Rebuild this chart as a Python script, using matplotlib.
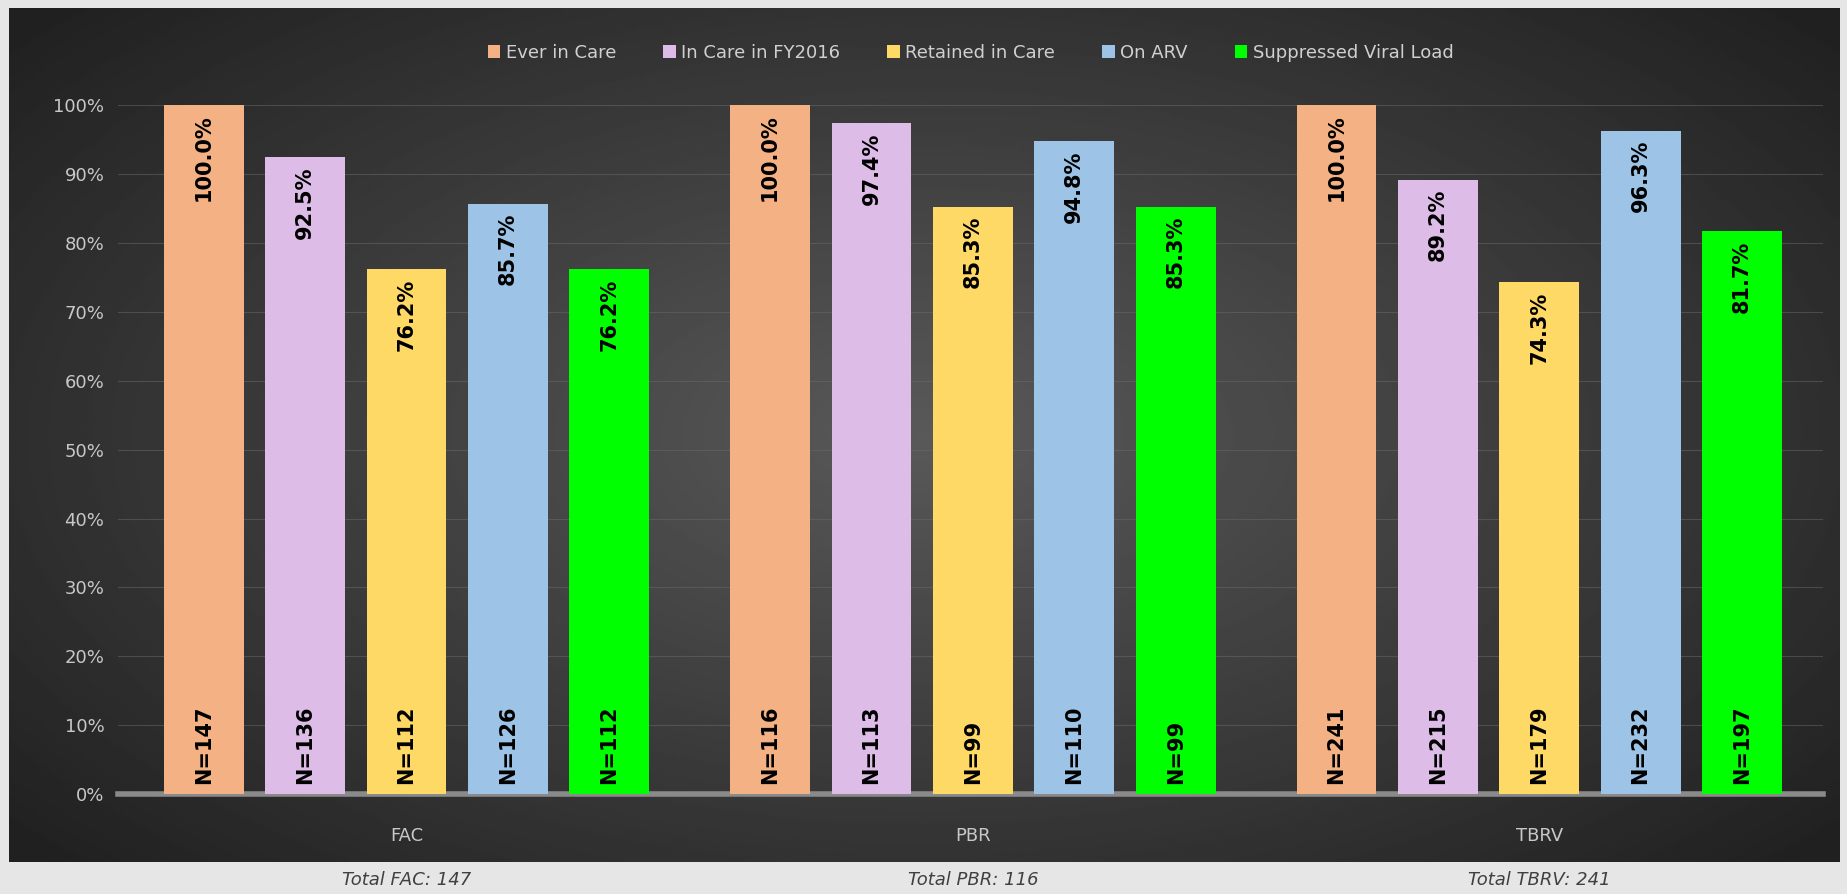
import numpy as np
import matplotlib
matplotlib.use('Agg')
import matplotlib.pyplot as plt
from matplotlib import font_manager

# data
groups = ['FAC', 'PBR', 'TBRV']
series = ['Ever in Care', 'In Care in FY2016', 'Retained in Care', 'On ARV', 'Suppressed Viral Load']
colors = ['#F4B183', '#DDBDE8', '#FFD966', '#9DC3E6', '#00FF00']
pct_fac = [100.0, 92.5, 76.2, 85.7, 76.2]
pct_pbr = [100.0, 97.4, 85.3, 94.8, 85.3]
pct_tbrv = [100.0, 89.2, 74.3, 96.3, 81.7]
n_fac = [147, 136, 112, 126, 112]
n_pbr = [116, 113, 99, 110, 99]
n_tbrv = [241, 215, 179, 232, 197]
totals = [147, 116, 241]

pcts = np.array([pct_fac, pct_pbr, pct_tbrv]) / 100
counts = np.array([n_fac, n_pbr, n_tbrv])

names = {f.name for f in font_manager.fontManager.ttflist}
narrow = 'Liberation Sans Narrow' if 'Liberation Sans Narrow' in names else 'DejaVu Sans'

fig = plt.figure(figsize=(18.47, 8.94), dpi=100)
fig.patch.set_facecolor('#e6e6e6')

# dark panel with radial gradient
bg = fig.add_axes([0.005, 0.036, 0.991, 0.955], zorder=0)
yy, xx = np.mgrid[-1:1:300j, -1:1:600j]
r = np.sqrt(xx**2 + (yy * 0.9)**2)
shade = 0.35 - 0.22 * np.clip(r / 1.3, 0, 1)
bg.imshow(shade, cmap='gray', vmin=0, vmax=1, aspect='auto', extent=[0, 1, 0, 1])
bg.set_axis_off()

ax = fig.add_axes([0.064, 0.112, 0.923, 0.77], zorder=1)
ax.patch.set_alpha(0)

x = np.arange(len(groups))
step = 0.179
width = 0.141
for i, s in enumerate(series):
    xs = x + (i - 2) * step
    bars = ax.bar(xs, pcts[:, i], width=width, color=colors[i], label=s, zorder=3)
    for j, b in enumerate(bars):
        cx = b.get_x() + b.get_width() / 2
        ax.text(cx, b.get_height() - 0.013, f'{pcts[j, i]*100:.1f}%', rotation=90,
                ha='center', va='top', fontsize=15, fontweight='bold', color='black', zorder=4)
        ax.text(cx, 0.015, f'N={counts[j, i]}', rotation=90,
                ha='center', va='bottom', fontsize=15, fontweight='bold', color='black', zorder=4)

ax.set_xlim(-0.509, 2.501)
ax.set_ylim(0, 1.0)
ax.set_yticks(np.arange(0, 1.01, 0.1))
ax.set_yticklabels([f'{int(v*100)}%' for v in np.arange(0, 1.01, 0.1)],
                   fontsize=13, color='#c8c8c8', family=narrow)
ax.set_xticks(x)
ax.set_xticklabels(groups, fontsize=13, color='#c8c8c8', family=narrow)
ax.tick_params(axis='both', length=0)
ax.tick_params(axis='x', pad=24)
ax.tick_params(axis='y', pad=10)
for sp in ax.spines.values():
    sp.set_visible(False)
ax.grid(axis='y', color='#6a6a6a', linewidth=0.8, alpha=0.5, zorder=0)
ax.set_axisbelow(True)
ax.axhline(0, color='#8a8a8a', linewidth=4, zorder=2, clip_on=False)

leg = ax.legend(loc='lower center', bbox_to_anchor=(0.5, 1.04), ncol=5, frameon=False,
                handlelength=0.7, handleheight=0.7, handletextpad=0.3, columnspacing=2.6,
                prop={'family': narrow, 'size': 13})
for t in leg.get_texts():
    t.set_color('#d0d0d0')

# totals under the panel
for j, g in enumerate(groups):
    xf = ax.transData.transform((x[j], 0))[0]
    xf = fig.transFigure.inverted().transform((xf, 0))[0]
    fig.text(xf, 0.016, f'Total {g}: {totals[j]}', ha='center', va='center',
             fontsize=13, style='italic', color='#404040', family=narrow)

fig.savefig('out.png', dpi=100, facecolor=fig.get_facecolor())
